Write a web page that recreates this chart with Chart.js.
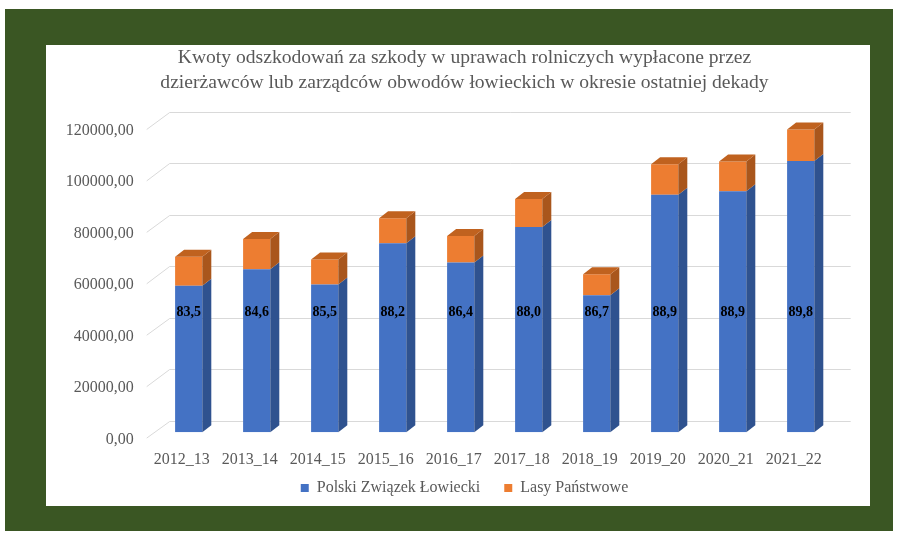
<!DOCTYPE html>
<html>
<head>
<meta charset="utf-8">
<script src="https://cdn.jsdelivr.net/npm/chart.js@4.4.0/dist/chart.umd.min.js"></script>
<style>
  html, body { margin: 0; padding: 0; background: #fff; }
  #ramka { position: absolute; left: 5px; top: 9px; width: 888px; height: 522px; background: #3a5623; }
  #panel { position: absolute; left: 46px; top: 45px; width: 824px; height: 461px; background: #fff; }
  #chart1 { position: absolute; left: 46px; top: 45px; display: block; }
</style>
</head>
<body>
<div id="ramka"></div>
<div id="panel"></div>
<canvas id="chart1" width="837" height="461"></canvas>
<script>
const ctx = document.getElementById('chart1').getContext('2d');

const sezony = ['2012_13', '2013_14', '2014_15', '2015_16', '2016_17', '2017_18', '2018_19', '2019_20', '2020_21', '2021_22'];
const kwotyPzl = [57000, 63400, 57500, 73500, 66000, 79800, 53300, 92400, 93700, 105500];
const kwotyLasy = [11300, 11800, 9700, 9700, 10300, 10900, 8200, 11800, 11600, 12200];
const udzialPzl = ['83,5', '84,6', '85,5', '88,2', '86,4', '88,0', '86,7', '88,9', '88,9', '89,8'];
const tytul = ['Kwoty odszkodowań za szkody w uprawach rolniczych wypłacone przez',
               'dzierżawców lub zarządców obwodów łowieckich w okresie ostatniej dekady'];

const niebieski = '#4472c4';
const niebieskiBok = '#2f528f';
const pomarancz = '#ed7d31';
const pomaranczBok = '#a9561c';
const pomaranczGora = '#c0621f';
const szary = '#595959';
const czcionka = "'Liberation Serif', 'Times New Roman', serif";

// poziom (w jednostkach osi Y) na którym stoją etykiety z udziałem PZŁ
const poziomEtykiet = 46700;

const efekt3d = {
  id: 'efekt3d',
  beforeDatasetsDraw(chart) {
    const { ctx, chartArea: a, scales: { y } } = chart;
    ctx.save();
    ctx.strokeStyle = '#d9d9d9';
    ctx.lineWidth = 1;
    y.ticks.forEach(t => {
      const p = y.getPixelForValue(t.value);
      const tyl = Math.round(p - 11.7) + 0.5;
      ctx.beginPath();
      ctx.moveTo(a.left - 8, p + 5.8);
      ctx.lineTo(a.left + 15, tyl);
      ctx.lineTo(a.right + 16, tyl);
      ctx.stroke();
    });
    ctx.restore();
  },
  afterDatasetsDraw(chart) {
    const ctx = chart.ctx;
    const dx = 9, dy = 7;
    const ostatni = chart.data.datasets.length - 1;
    ctx.save();
    chart.data.datasets.forEach((ds, i) => {
      chart.getDatasetMeta(i).data.forEach(bar => {
        const { x, y, base, width } = bar.getProps(['x', 'y', 'base', 'width'], true);
        const l = x - width / 2, r = x + width / 2;
        ctx.fillStyle = ds.kolorBoku;
        ctx.beginPath();
        ctx.moveTo(r, y);
        ctx.lineTo(r + dx, y - dy);
        ctx.lineTo(r + dx, base - dy);
        ctx.lineTo(r, base);
        ctx.closePath();
        ctx.fill();
        if (i === ostatni) {
          ctx.fillStyle = ds.kolorGory;
          ctx.beginPath();
          ctx.moveTo(l, y);
          ctx.lineTo(l + dx, y - dy);
          ctx.lineTo(r + dx, y - dy);
          ctx.lineTo(r, y);
          ctx.closePath();
          ctx.fill();
        }
      });
    });

    const yEt = chart.scales.y.getPixelForValue(poziomEtykiet);
    ctx.fillStyle = '#000';
    ctx.font = 'bold 14px ' + czcionka;
    ctx.textAlign = 'center';
    ctx.textBaseline = 'middle';
    chart.getDatasetMeta(0).data.forEach((bar, j) => {
      ctx.fillText(udzialPzl[j], bar.x, yEt);
    });
    ctx.restore();
  }
};

new Chart(ctx, {
  type: 'bar',
  data: {
    labels: sezony,
    datasets: [{
      label: 'Polski Związek Łowiecki',
      backgroundColor: niebieski,
      kolorBoku: niebieskiBok,
      data: kwotyPzl,
      barPercentage: 0.4,
      categoryPercentage: 1.0
    }, {
      label: 'Lasy Państwowe',
      backgroundColor: pomarancz,
      kolorBoku: pomaranczBok,
      kolorGory: pomaranczGora,
      data: kwotyLasy,
      barPercentage: 0.4,
      categoryPercentage: 1.0
    }]
  },
  options: {
    responsive: false,
    animation: false,
    devicePixelRatio: 1,
    layout: { padding: 0 },
    scales: {
      x: {
        stacked: true,
        grid: { display: false, drawTicks: false },
        border: { display: false },
        ticks: { color: szary, font: { family: czcionka, size: 16 }, padding: 18, labelOffset: -7 },
        afterFit(scale) { scale.height = 39.7; }
      },
      y: {
        stacked: true,
        min: 0,
        max: 120000,
        grid: { display: false, drawTicks: false },
        border: { display: false },
        ticks: {
          stepSize: 20000,
          color: szary,
          font: { family: czcionka, size: 16 },
          padding: 21,
          labelOffset: 7,
          callback: v => v.toFixed(2).replace('.', ',')
        },
        afterFit(scale) { scale.width = 108.7; }
      },
      // pusty margines po prawej, żeby tytuł i legenda były wyśrodkowane jak w oryginale
      margines: {
        type: 'linear',
        position: 'right',
        grid: { display: false },
        border: { display: false },
        ticks: { display: false },
        afterFit(scale) { scale.width = 48.3; }
      }
    },
    plugins: {
      title: {
        display: true,
        text: tytul,
        color: szary,
        font: { family: czcionka, size: 19.6, weight: 'normal', lineHeight: 1.28 },
        padding: { top: 0, bottom: 28.5 }
      },
      legend: {
        position: 'bottom',
        labels: {
          color: szary,
          font: { family: czcionka, size: 16 },
          boxWidth: 8,
          boxHeight: 8,
          padding: 8,
          generateLabels(chart) {
            const items = Chart.defaults.plugins.legend.labels.generateLabels(chart);
            items[0].text += '    ';
            return items;
          }
        }
      },
      tooltip: { enabled: false }
    }
  },
  plugins: [efekt3d]
});
</script>
</body>
</html>
